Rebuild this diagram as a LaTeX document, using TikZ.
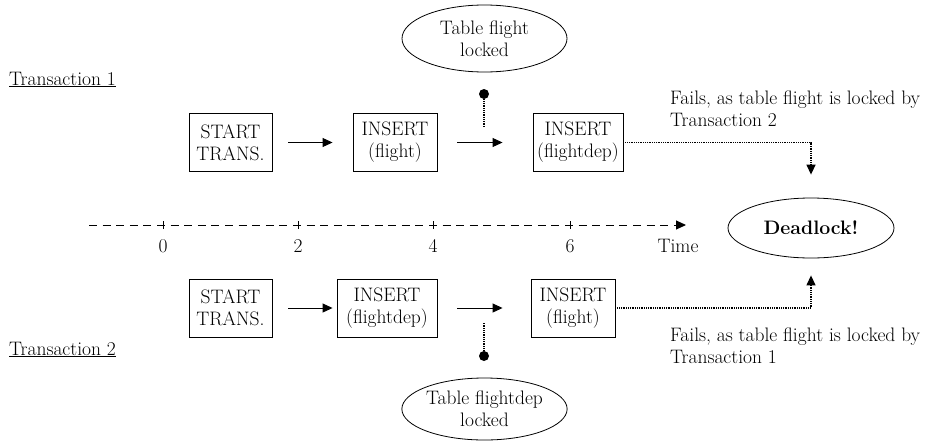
\documentclass[tikz,border=0pt]{standalone}
\usepackage{fontspec}
\usetikzlibrary{arrows.meta,shapes.geometric,calc}
\tikzset{
  txt/.style={font=\fontsize{19.5}{22}\selectfont, inner sep=0pt},
  stepbox/.style={txt, draw, line width=0.9pt, minimum height=58pt, align=center},
  oval/.style={txt, draw, ellipse, line width=0.8pt, align=center},
  arr/.style={line width=1pt, -{Triangle[length=10pt,width=9pt]}},
  dotline/.style={line width=1.3pt, dash pattern=on 1pt off 0.8pt},
  dotarr/.style={dotline, -{Triangle[length=10pt,width=9pt]}},
  pin/.style={circle, fill=black, minimum size=10pt, inner sep=0pt},
  axis/.style={line width=0.9pt, dash pattern=on 8pt off 5.6pt},
  tick/.style={line width=0.9pt},
}
\begin{document}
\begin{tikzpicture}[x=1pt,y=-1pt]
\useasboundingbox (0,0) rectangle (935,442);

% labels
\node[txt, anchor=base west] (t1) at (9,85) {\underline{Transaction 1}};
\node[txt, anchor=base west] (t2) at (9,355) {\underline{Transaction 2}};

% row 1
\node[stepbox, minimum width=83pt] (b1) at (230.5,142.5) {START\\TRANS.};
\node[stepbox, minimum width=84pt] (b2) at (395,142.5) {INSERT\\(flight)};
\node[stepbox, minimum width=90pt] (b3) at (578,142.5) {INSERT\\(flightdep)};
\draw[arr] ([xshift=16pt]b1.east) -- ([xshift=-20pt]b2.west);
\draw[arr] ([xshift=20pt]b2.east) -- ([xshift=-30pt]b3.west);

% row 2
\node[stepbox, minimum width=83pt] (c1) at (230.5,308) {START\\TRANS.};
\node[stepbox, minimum width=100pt] (c2) at (387,308) {INSERT\\(flightdep)};
\node[stepbox, minimum width=84pt] (c3) at (573,308) {INSERT\\(flight)};
\draw[arr] ([xshift=16pt]c1.east) -- ([xshift=-4pt]c2.west);
\draw[arr] ([xshift=20pt]c2.east) -- ([xshift=-28pt]c3.west);

% lock ellipses and pins
\node[oval, minimum width=165pt, minimum height=67pt] (l1) at (484.5,38.5) {Table flight\\locked};
\node[oval, minimum width=165pt, minimum height=62pt] (l2) at (484.5,409) {Table flightdep\\locked};
\node[pin] (p1) at (484,94) {};
\node[pin] (p2) at (484,356) {};
\coordinate (q1) at (484,127);
\coordinate (q2) at (484,323);
\draw[dotline] (p1) -- (q1);
\draw[dotline] (p2) -- (q2);

% deadlock
\node[oval, minimum width=166pt, minimum height=60pt] (dl) at (811,228) {\bfseries Deadlock!};
\draw[dotarr] (b3.east) -| ([yshift=23pt]dl.north);
\draw[dotarr] (c3.east) -| ([yshift=-17pt]dl.south);

\node[txt, anchor=north west, align=left] (f1) at (670,91) {Fails, as table flight is locked by\\Transaction 2};
\node[txt, anchor=north west, align=left] (f2) at (670,328) {Fails, as table flight is locked by\\Transaction 1};

% time axis
\coordinate (a0) at (89,225);
\coordinate (a1) at (686,225);
\draw[axis] (a0) -- ([xshift=-10pt]a1);
\draw[arr] ([xshift=-10.5pt]a1) -- (a1);
\foreach \x/\l in {163/0,298/2,433/4,570/6}{
  \draw[tick] (\x,221) -- (\x,229);
  \node[txt, anchor=base] (n\l) at (\x,252) {\l};
}
\node[txt, anchor=base] (time) at (678,252) {Time};
\end{tikzpicture}
\end{document}
